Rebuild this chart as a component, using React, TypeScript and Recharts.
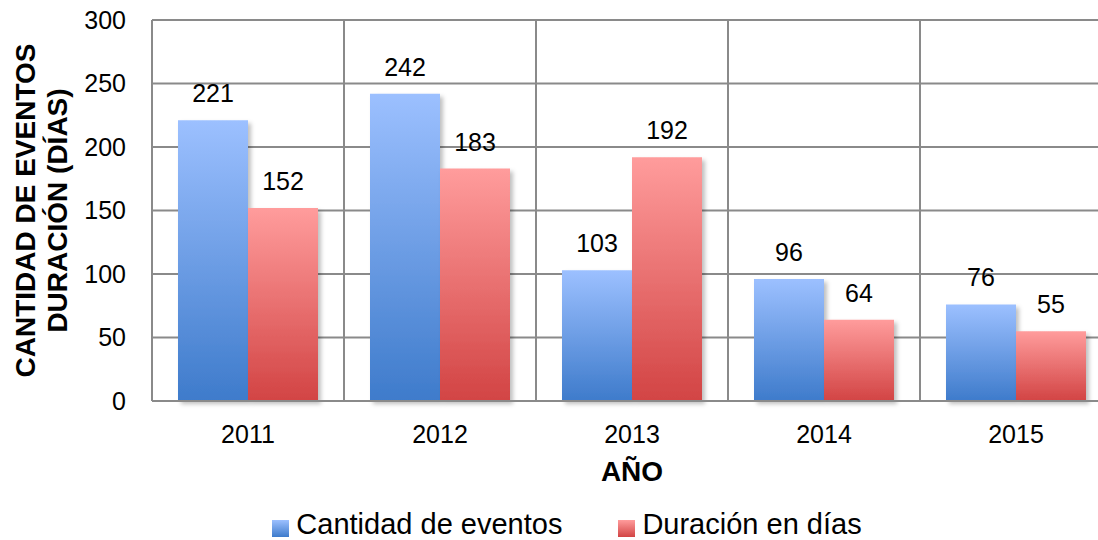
import React from 'react';
import { BarChart, Bar, XAxis, YAxis, CartesianGrid, Legend, LabelList } from 'recharts';

const years = ['2011', '2012', '2013', '2014', '2015'];
const eventos = [221, 242, 103, 96, 76];
const duracion = [152, 183, 192, 64, 55];
const yTicks = [0, 50, 100, 150, 200, 250, 300];

const data = years.map((year, i) => ({ year, eventos: eventos[i], duracion: duracion[i] }));

const FONT = '"Liberation Sans", Arial, sans-serif';
const GRID = '#8a8a8a';

// vertical lines sit on the category boundaries, not on the tick centres
const bandEdges = ({ offset }: any) =>
  Array.from({ length: years.length + 1 }, (_, i) => offset.left + (i * offset.width) / years.length);

const YTitle = (props: any) => {
  const { viewBox } = props;
  const cy = viewBox.y + viewBox.height / 2;
  return (
    <g fontWeight="bold" fontSize={28} fill="#000">
      <text x={25} y={cy} transform={`rotate(-90, 25, ${cy})`} textAnchor="middle" dominantBaseline="central">
        CANTIDAD DE EVENTOS
      </text>
      <text x={57} y={cy} transform={`rotate(-90, 57, ${cy})`} textAnchor="middle" dominantBaseline="central">
        DURACIÓN (DÍAS)
      </text>
    </g>
  );
};

const XTitle = (props: any) => {
  const { viewBox } = props;
  return (
    <text x={viewBox.x + viewBox.width / 2} y={viewBox.y + 80} textAnchor="middle" fontWeight="bold" fontSize={28} fill="#000">
      AÑO
    </text>
  );
};

const legendItems = [
  { label: 'Cantidad de eventos', grad: 'linear-gradient(#9cc0ff, #3e7bcb)' },
  { label: 'Duración en días', grad: 'linear-gradient(#ff9c9c, #d24444)' },
];

const LegendContent = () => (
  <div style={{ display: 'flex', justifyContent: 'center', alignItems: 'flex-end', height: 40, gap: 56, paddingLeft: 22, boxSizing: 'border-box' }}>
    {legendItems.map((it) => (
      <div key={it.label} style={{ display: 'flex', alignItems: 'center' }}>
        <span style={{ width: 17, height: 17, background: it.grad, display: 'inline-block', marginRight: 7, marginTop: 8 }} />
        <span style={{ fontSize: 29, color: '#000', lineHeight: '31px' }}>{it.label}</span>
      </div>
    ))}
  </div>
);

export default function App() {
  return (
    <div style={{ position: 'absolute', left: 0, top: 0, width: 1098, height: 540, overflow: 'hidden', background: '#fff', fontFamily: FONT }}>
      <BarChart width={1130} height={540} data={data} margin={{ top: 20, right: 18, left: 0, bottom: 0 }} barCategoryGap={26} barGap={0}>
        <defs>
          <linearGradient id="gBlue" x1="0" y1="0" x2="0" y2="1">
            <stop offset="0%" stopColor="#9cc0ff" />
            <stop offset="100%" stopColor="#3e7bcb" />
          </linearGradient>
          <linearGradient id="gRed" x1="0" y1="0" x2="0" y2="1">
            <stop offset="0%" stopColor="#ff9c9c" />
            <stop offset="100%" stopColor="#d24444" />
          </linearGradient>
          <filter id="shadow" x="-10%" y="-10%" width="130%" height="130%">
            <feDropShadow dx="3" dy="3" stdDeviation="2" floodColor="#000" floodOpacity="0.25" />
          </filter>
        </defs>
        <CartesianGrid stroke={GRID} strokeWidth={2} verticalCoordinatesGenerator={bandEdges} />
        <XAxis
          dataKey="year"
          height={99}
          axisLine={{ stroke: GRID, strokeWidth: 2 }}
          tickLine={false}
          tickSize={6}
          tickMargin={18}
          tick={{ fill: '#000', fontSize: 25 }}
          label={<XTitle />}
        />
        <YAxis
          width={152}
          domain={[0, 300]}
          ticks={yTicks}
          axisLine={{ stroke: GRID, strokeWidth: 2 }}
          tickLine={false}
          tickSize={6}
          tickMargin={20}
          tick={{ fill: '#000', fontSize: 25 }}
          label={<YTitle />}
        />
        <Legend verticalAlign="bottom" height={40} content={<LegendContent />} />
        <Bar dataKey="eventos" name="Cantidad de eventos" fill="url(#gBlue)" filter="url(#shadow)" isAnimationActive={false}>
          <LabelList dataKey="eventos" position="top" offset={18} fill="#000" fontSize={25} />
        </Bar>
        <Bar dataKey="duracion" name="Duración en días" fill="url(#gRed)" filter="url(#shadow)" isAnimationActive={false}>
          <LabelList dataKey="duracion" position="top" offset={18} fill="#000" fontSize={25} />
        </Bar>
      </BarChart>
    </div>
  );
}
